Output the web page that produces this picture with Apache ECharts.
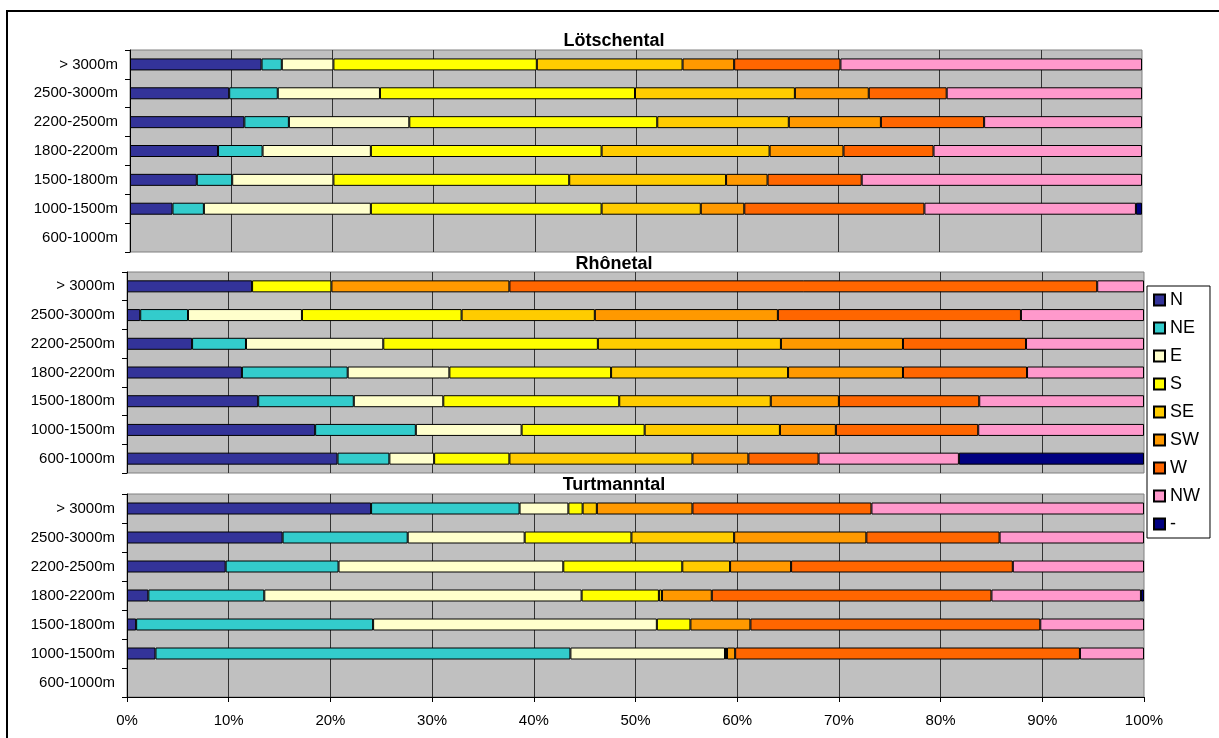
<!DOCTYPE html>
<html>
<head>
<meta charset="utf-8">
<script src="https://cdn.jsdelivr.net/npm/echarts@6/dist/echarts.min.js"></script>
<style>
  html, body { margin: 0; padding: 0; background: #fff; }
  #chart { width: 1219px; height: 738px; }
</style>
</head>
<body>
<div id="chart"></div>
<script>
// Altitude bands, listed top to bottom
const categories = ['> 3000m', '2500-3000m', '2200-2500m', '1800-2200m', '1500-1800m', '1000-1500m', '600-1000m'];
const directions = ['N', 'NE', 'E', 'S', 'SE', 'SW', 'W', 'NW', '-'];
const valleyNames = ['Lötschental', 'Rhônetal', 'Turtmanntal'];
const xTicks = [0, 10, 20, 30, 40, 50, 60, 70, 80, 90, 100];

// Share (%) of each exposition per altitude band; one row per direction
const loetschental = [
  [13.0, 9.8, 11.3, 8.7, 6.6, 4.2, null],      // N
  [2.0, 4.8, 4.4, 4.4, 3.5, 3.1, null],        // NE
  [5.1, 10.1, 11.9, 10.7, 10.0, 16.5, null],   // E
  [20.1, 25.2, 24.5, 22.8, 23.3, 22.8, null],  // S
  [14.4, 15.8, 13.0, 16.6, 15.5, 9.8, null],   // SE
  [5.1, 7.3, 9.1, 7.3, 4.1, 4.3, null],        // SW
  [10.5, 7.7, 10.2, 8.9, 9.3, 17.8, null],     // W
  [29.8, 19.3, 15.6, 20.6, 27.7, 20.9, null],  // NW
  [null, null, null, null, null, 0.6, null]    // -
];
const rhonetal = [
  [12.3, 1.3, 6.4, 11.3, 12.9, 18.5, 20.7],
  [null, 4.7, 5.3, 10.4, 9.4, 9.9, 5.1],
  [null, 11.2, 13.5, 10.0, 8.8, 10.4, 4.4],
  [7.8, 15.7, 21.1, 15.9, 17.3, 12.1, 7.4],
  [null, 13.1, 18.0, 17.4, 14.9, 13.3, 18.0],
  [17.5, 18.0, 12.0, 11.3, 6.7, 5.5, 5.5],
  [57.8, 23.9, 12.1, 12.2, 13.8, 14.0, 6.9],
  [4.6, 12.1, 11.6, 11.5, 16.2, 16.3, 13.8],
  [null, null, null, null, null, null, 18.2]
];
const turtmanntal = [
  [24.0, 15.3, 9.7, 2.1, 0.9, 2.8, null],
  [14.6, 12.3, 11.1, 11.4, 23.3, 40.8, null],
  [4.8, 11.5, 22.1, 31.2, 27.9, 15.2, null],
  [1.4, 10.5, 11.7, 7.6, 3.3, 0.2, null],
  [1.4, 10.1, 4.7, 0.3, null, null, null],
  [9.4, 13.0, 6.0, 4.9, 5.9, 0.8, null],
  [17.6, 13.1, 21.8, 27.5, 28.5, 33.9, null],
  [26.8, 14.2, 12.9, 14.7, 10.2, 6.3, null],
  [null, null, null, 0.3, null, null, null]
];

const valleys = [loetschental, rhonetal, turtmanntal];
const colors = ['#333399', '#33CCCC', '#FFFFCC', '#FFFF00', '#FFCC00', '#FF9900', '#FF6600', '#FF99CC', '#000080'];

const FONT = '"Liberation Sans", Arial, sans-serif';

// Panel placement (pixels)
const panels = [
  { left: 130, right: 77, top: 50, height: 202, titleY: 40 },
  { left: 127, right: 75, top: 272, height: 201, titleY: 263 },
  { left: 127, right: 75, top: 494, height: 203, titleY: 484 }
];

const grids = panels.map(p => ({
  left: p.left, right: p.right, top: p.top, height: p.height,
  show: true, backgroundColor: '#C0C0C0', borderColor: '#808080', borderWidth: 1
}));

const xAxes = panels.map((p, i) => {
  const last = i === panels.length - 1;
  return {
    type: 'value', gridIndex: i, min: xTicks[0], max: xTicks[xTicks.length - 1], interval: xTicks[1] - xTicks[0],
    axisLine: { show: last, lineStyle: { color: '#000', width: 1 } },
    axisTick: { show: last, length: 5, lineStyle: { color: '#000' } },
    axisLabel: { show: last, formatter: '{value}%', color: '#000', fontSize: 15, fontFamily: FONT, margin: 16 },
    splitLine: { show: true, showMaxLine: false, lineStyle: { color: '#333', width: 1 } }
  };
});

const yAxes = panels.map((p, i) => ({
  type: 'category', gridIndex: i, data: categories, inverse: true,
  axisLine: { show: true, lineStyle: { color: '#000', width: 1 } },
  axisTick: { show: true, length: 5, lineStyle: { color: '#000' } },
  axisLabel: { color: '#000', fontSize: 15, fontFamily: FONT, margin: 12 },
  splitLine: { show: false }
}));

const series = [];
valleys.forEach((rows, g) => {
  rows.forEach((vals, d) => {
    series.push({
      name: directions[d], type: 'bar', stack: 'valley' + g,
      xAxisIndex: g, yAxisIndex: g, data: vals, barWidth: 12,
      itemStyle: { color: colors[d], borderColor: '#000', borderWidth: 1 },
      emphasis: { disabled: true }
    });
  });
});

const titles = valleyNames.map((name, i) => ({
  text: name, left: 614, top: panels[i].titleY - 8, textAlign: 'center', padding: 0,
  textStyle: { fontSize: 18, fontWeight: 'bold', color: '#000', fontFamily: FONT }
}));

const chart = echarts.init(document.getElementById('chart'), null, { renderer: 'canvas' });
chart.setOption({
  animation: false,
  backgroundColor: '#fff',
  title: titles,
  grid: grids,
  xAxis: xAxes,
  yAxis: yAxes,
  legend: {
    data: directions, orient: 'vertical', left: 1147, top: 286,
    icon: 'rect', itemWidth: 11, itemHeight: 11, itemGap: 8,
    padding: [4, 10, 4, 6],
    backgroundColor: '#fff', borderColor: '#000', borderWidth: 1,
    selectedMode: false,
    textStyle: { fontSize: 18, color: '#000', fontFamily: FONT, lineHeight: 20, padding: [0, 0, 0, 0] }
  },
  graphic: [{
    type: 'rect', z: 100, silent: true,
    shape: { x: 7, y: 11, width: 1300, height: 800 },
    style: { fill: 'none', stroke: '#000', lineWidth: 2 }
  }],
  series: series
});
</script>
</body>
</html>
